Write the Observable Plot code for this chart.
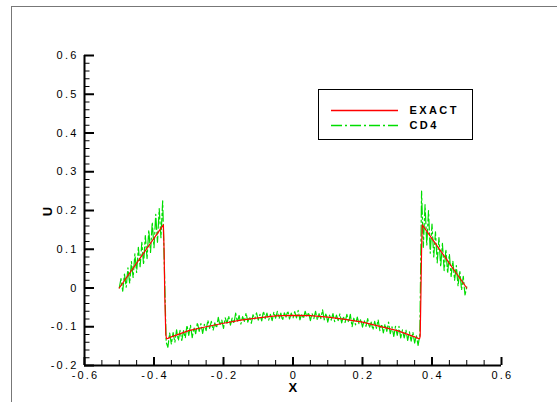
<!DOCTYPE html>
<html><head><meta charset="utf-8">
<script src="https://cdn.jsdelivr.net/npm/d3@7"></script>
<script src="https://cdn.jsdelivr.net/npm/@observablehq/plot@0.6"></script>
<style>
html,body{margin:0;padding:0;background:#fff;}
#wrap{position:relative;width:557px;height:402px;overflow:hidden;background:#fff;}
#frame{position:absolute;left:11px;top:6px;width:600px;height:450px;border-left:1px solid #777;border-top:1px solid #777;}
#chart{position:absolute;left:0;top:0;}
#legend{position:absolute;left:0;top:0;}
</style></head><body>
<div id="wrap"><div id="frame"></div><div id="chart"></div><svg id="legend" width="557" height="402"></svg></div>
<script>
// tick values
const xMajor = [-0.6, -0.4, -0.2, 0, 0.2, 0.4, 0.6];
const xMinor = [-0.55, -0.5, -0.45, -0.35, -0.3, -0.25, -0.15, -0.1, -0.05, 0.05, 0.1, 0.15, 0.25, 0.3, 0.35, 0.45, 0.5, 0.55];
const yMajor = [-0.2, -0.1, 0, 0.1, 0.2, 0.3, 0.4, 0.5, 0.6];
const yMinor = [-0.18, -0.16, -0.14, -0.12, -0.08, -0.06, -0.04, -0.02, 0.02, 0.04, 0.06, 0.08, 0.12, 0.14, 0.16, 0.18,
  0.22, 0.24, 0.26, 0.28, 0.32, 0.34, 0.36, 0.38, 0.42, 0.44, 0.46, 0.48, 0.52, 0.54, 0.56, 0.58];

// series names / colours
const seriesNames = ["EXACT", "CD4"];
const seriesColors = ["#ff0000", "#00dd00"];

// EXACT solution
const exactX = [-0.5, -0.373, -0.371, -0.369, -0.366, -0.364, -0.36, -0.35, -0.3, -0.25, -0.2, -0.15, -0.1, -0.05, 0,
  0.05, 0.1, 0.15, 0.2, 0.25, 0.3, 0.35, 0.36, 0.364, 0.366, 0.368, 0.370, 0.372, 0.5];
const exactU = [0, 0.163, 0.10, -0.02, -0.12, -0.131, -0.130, -0.126, -0.110, -0.100, -0.091, -0.083, -0.077, -0.072, -0.0705,
  -0.0715, -0.075, -0.081, -0.088, -0.099, -0.110, -0.126, -0.130, -0.131, -0.125, -0.02, 0.10, 0.163, 0];

// CD4 solution on grid x = -0.5 + 0.005*i
const cd4Start = -0.5, cd4Step = 0.005;
const cd4U = [
  0.000, 0.024, -0.008, 0.036, 0.002, 0.052, 0.012, 0.068, 0.027, 0.088, 0.040, 0.105, 0.055, 0.118, 0.060, 0.135,
  0.076, 0.150, 0.092, 0.170, 0.104, 0.190, 0.118, 0.205, 0.130, 0.225,
  0.050, -0.140,
  -0.153, -0.116, -0.145, -0.115, -0.140, -0.108, -0.136, -0.109, -0.135, -0.110,
  -0.129, -0.096, -0.122, -0.096, -0.128, -0.101, -0.118, -0.089, -0.112, -0.092,
  -0.117, -0.094, -0.110, -0.083, -0.104, -0.086, -0.109, -0.090, -0.103, -0.076,
  -0.097, -0.082, -0.104, -0.077, -0.091, -0.072, -0.096, -0.077, -0.092, -0.065,
  -0.088, -0.071, -0.093, -0.074, -0.086, -0.064, -0.088, -0.074, -0.091, -0.069,
  -0.080, -0.064, -0.083, -0.068, -0.085, -0.060, -0.079, -0.065, -0.083, -0.068,
  -0.084, -0.062, -0.078, -0.060, -0.079, -0.065, -0.084, -0.064, -0.075, -0.059,
  -0.080, -0.065,
  -0.078, -0.061, -0.077, -0.058, -0.082, -0.066, -0.079, -0.060, -0.075, -0.063,
  -0.084, -0.066, -0.079, -0.060, -0.083, -0.066, -0.079, -0.056, -0.082, -0.065,
  -0.088, -0.070, -0.083, -0.066, -0.087, -0.070, -0.084, -0.067, -0.090, -0.073,
  -0.089, -0.068, -0.089, -0.068, -0.100, -0.078, -0.095, -0.075, -0.093, -0.080,
  -0.101, -0.083, -0.099, -0.079, -0.103, -0.088, -0.108, -0.086, -0.104, -0.082,
  -0.110, -0.093, -0.116, -0.093, -0.112, -0.088, -0.118, -0.100, -0.125, -0.099,
  -0.122, -0.099, -0.129, -0.108, -0.129, -0.108, -0.135, -0.113, -0.137, -0.114,
  -0.142, -0.122, -0.148,
  -0.120,
  0.250, 0.105, 0.215, 0.110, 0.200, 0.090, 0.165, 0.080, 0.145, 0.065,
  0.130, 0.055, 0.115, 0.045, 0.100, 0.038, 0.088, 0.030, 0.070, 0.020,
  0.058, 0.005, 0.045, -0.005, 0.030, -0.018, 0.003
];

const exactData = exactX.map((x, i) => ({x, u: exactU[i]}));
const cd4Data = cd4U.map((u, i) => ({x: cd4Start + cd4Step * i, u}));

const W = 557, H = 402, mL = 84, mR = 56, mT = 55, mB = 37;
const innerW = W - mL - mR, innerH = H - mT - mB;
const fmt = d => d === 0 ? "0" : d.toFixed(1);
const font = "'Liberation Sans', Arial, Helvetica, sans-serif";
const dash = "11,3,2,3";

const chart = Plot.plot({
  width: W, height: H,
  marginLeft: mL, marginRight: mR, marginTop: mT, marginBottom: mB,
  x: {domain: [-0.6, 0.6], axis: null},
  y: {domain: [-0.2, 0.6], axis: null},
  style: {fontFamily: font, background: "transparent", letterSpacing: "2.2px"},
  marks: [
    Plot.line(cd4Data, {x: "x", y: "u", stroke: seriesColors[1], strokeWidth: 1.2, strokeDasharray: dash}),
    Plot.line(exactData, {x: "x", y: "u", stroke: seriesColors[0], strokeWidth: 1.2}),
    // axis lines
    Plot.ruleX([-0.6], {stroke: "#000", strokeWidth: 2}),
    Plot.ruleY([-0.2], {stroke: "#000", strokeWidth: 2}),
    // x ticks (inward)
    Plot.ruleX(xMajor, {x: d => d, stroke: "#000", strokeWidth: 2, insetTop: innerH - 8}),
    Plot.ruleX(xMinor, {x: d => d, stroke: "#000", strokeWidth: 1, insetTop: innerH - 5}),
    // y ticks (inward)
    Plot.ruleY(yMajor, {y: d => d, stroke: "#000", strokeWidth: 2, insetRight: innerW - 10}),
    Plot.ruleY(yMinor, {y: d => d, stroke: "#000", strokeWidth: 1, insetRight: innerW - 5.5}),
    // tick labels
    Plot.text(xMajor, {x: d => d, y: -0.2, dy: 9.5, dx: 1, text: fmt, fontSize: 11, fill: "#000"}),
    Plot.text(yMajor, {x: -0.6, y: d => d, dx: -6, textAnchor: "end", text: fmt, fontSize: 11, fill: "#000"}),
    // axis titles
    Plot.text(["X"], {x: 0, y: -0.2, dy: 22.5, dx: 1, fontSize: 13, fontWeight: "bold", fill: "#000"}),
    Plot.text(["U"], {x: -0.6, y: 0.2, dx: -37, rotate: -90, fontSize: 13, fontWeight: "bold", fill: "#000"})
  ]
});
document.getElementById("chart").appendChild(chart);

// legend (separate overlay svg, pixel positioned box)
const lg = d3.select("#legend");
lg.append("rect").attr("x", 318.5).attr("y", 89.5).attr("width", 154).attr("height", 50)
  .attr("fill", "#fff").attr("stroke", "#000").attr("stroke-width", 1);
const rowsY = [110.5, 125.5];
seriesNames.forEach((name, i) => {
  const ln = lg.append("line").attr("x1", 331).attr("x2", 398).attr("y1", rowsY[i]).attr("y2", rowsY[i])
    .style("stroke", seriesColors[i]).style("stroke-width", i === 1 ? "1.5px" : "1.3px").style("fill", "none");
  if (i === 1) ln.style("stroke-dasharray", dash);
  lg.append("text").attr("x", 409.5).attr("y", rowsY[i]).attr("dy", "0.36em")
    .attr("text-anchor", "start")
    .attr("font-family", font).attr("font-size", 11).attr("font-weight", "bold")
    .attr("letter-spacing", "2.4px").attr("fill", "#000").text(name);
});
</script>
</body></html>
